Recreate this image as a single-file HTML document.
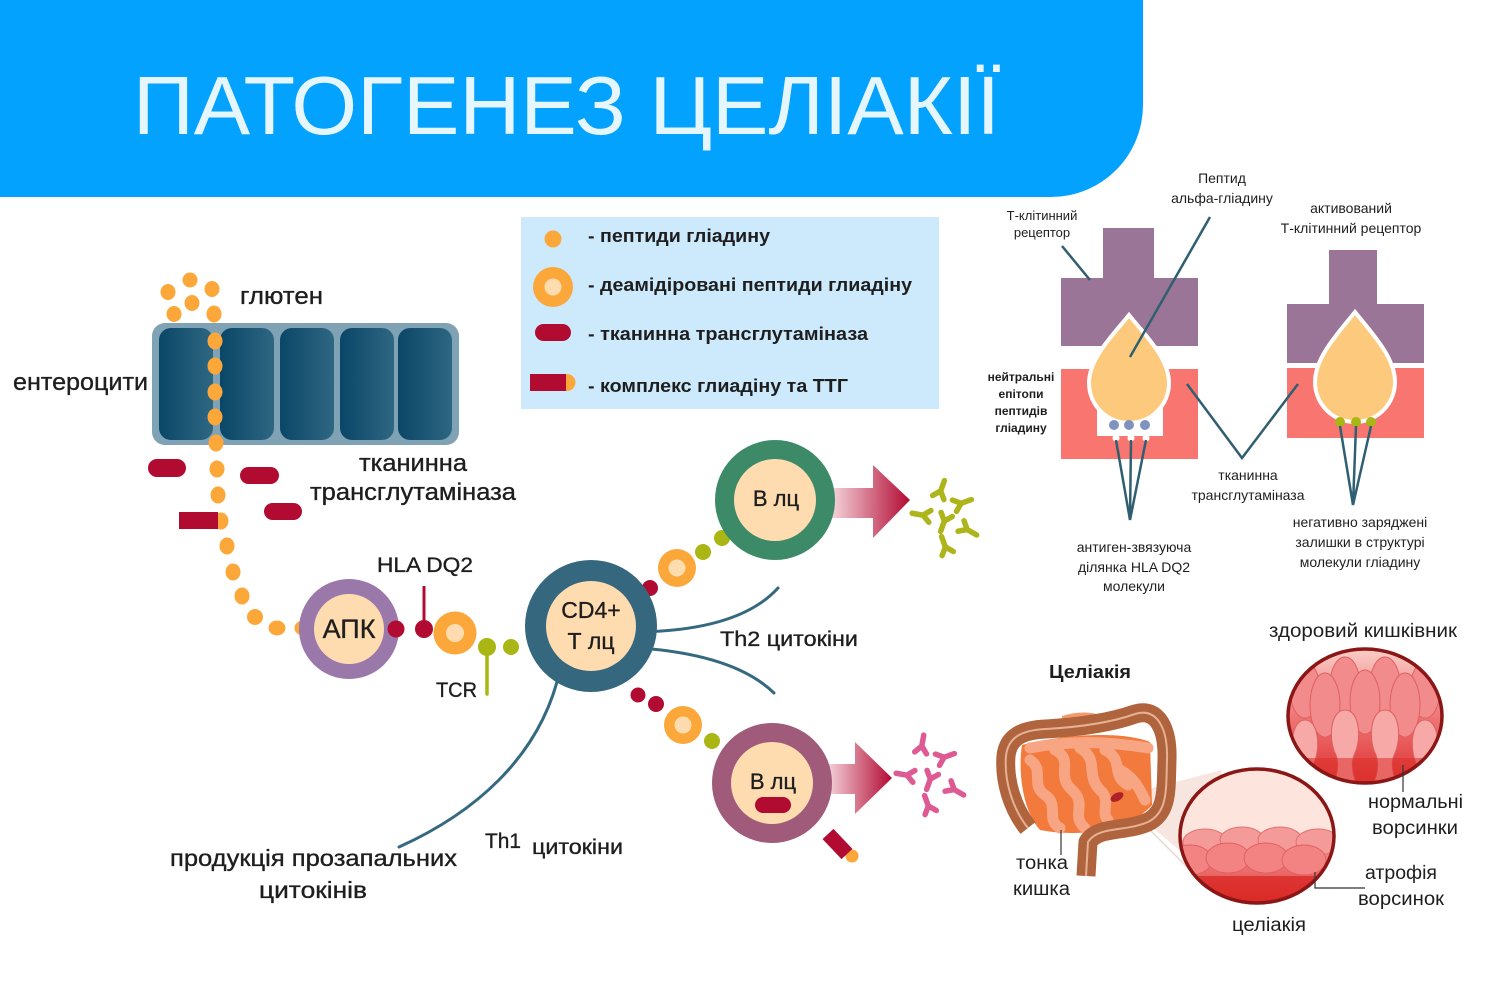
<!DOCTYPE html>
<html><head><meta charset="utf-8">
<style>
html,body{margin:0;padding:0;background:#fff;}
svg{display:block;}
text{font-family:"Liberation Sans","DejaVu Sans",sans-serif;fill:#1e1e1e;}
.b{font-weight:bold;}
.m{stroke:#1e1e1e;stroke-width:0.35px;}
</style></head>
<body>
<svg width="1500" height="996" viewBox="0 0 1500 996" xmlns="http://www.w3.org/2000/svg">
<defs>
  <linearGradient id="cell" x1="0" y1="0" x2="1" y2="0">
    <stop offset="0" stop-color="#0a4667"/><stop offset="1" stop-color="#2e6782"/>
  </linearGradient>
  <linearGradient id="arr" x1="0" y1="0" x2="1" y2="0">
    <stop offset="0" stop-color="#f6d8df"/><stop offset="1" stop-color="#b20a33"/>
  </linearGradient>
  <linearGradient id="vil" x1="0" y1="0" x2="0" y2="1">
    <stop offset="0" stop-color="#fbd9d2"/><stop offset="0.45" stop-color="#f08080"/><stop offset="1" stop-color="#dc2a28"/>
  </linearGradient>
  <linearGradient id="vil2" x1="0" y1="0" x2="0" y2="1">
    <stop offset="0" stop-color="#f59a9a"/><stop offset="1" stop-color="#d9221f"/>
  </linearGradient>
  <clipPath id="c1"><ellipse cx="1365" cy="716" rx="77" ry="67"/></clipPath>
  <clipPath id="c2"><ellipse cx="1257" cy="836" rx="77" ry="67"/></clipPath>
  <g id="ab"><path d="M0,10 L0,-1 M0,-1 L-6,-8 M0,-1 L6,-8" fill="none" stroke-width="5.5" stroke-linecap="round"/></g>
</defs>

<!-- Header -->
<path d="M0,0 H1143 V105 A92,92 0 0 1 1051,197 H0 Z" fill="#03a2fe"/>
<text x="133" y="134" font-size="83" textLength="867" lengthAdjust="spacingAndGlyphs" style="fill:#e6f6ff">ПАТОГЕНЕЗ ЦЕЛІАКІЇ</text>

<!-- Enterocytes -->
<rect x="152" y="323" width="307" height="122" rx="13" fill="#7fa2b5"/>
<rect x="159" y="328" width="54" height="112" rx="12" fill="url(#cell)"/>
<rect x="220" y="328" width="54" height="112" rx="12" fill="url(#cell)"/>
<rect x="280" y="328" width="54" height="112" rx="12" fill="url(#cell)"/>
<rect x="340" y="328" width="54" height="112" rx="12" fill="url(#cell)"/>
<rect x="398" y="328" width="54" height="112" rx="12" fill="url(#cell)"/>

<!-- gluten dots -->
<g fill="#fba73a">
  <ellipse cx="168" cy="292" rx="7.5" ry="8"/>
  <ellipse cx="190" cy="280" rx="7.5" ry="7.5"/>
  <ellipse cx="212" cy="289" rx="7.5" ry="8"/>
  <ellipse cx="192" cy="303" rx="7.5" ry="8"/>
  <ellipse cx="174" cy="314" rx="7.5" ry="8"/>
  <ellipse cx="214" cy="314" rx="7.5" ry="8.5"/>
  <ellipse cx="215" cy="341" rx="7.5" ry="8.5"/>
  <ellipse cx="215" cy="366" rx="7.5" ry="8.5"/>
  <ellipse cx="215" cy="392" rx="7.5" ry="8.5"/>
  <ellipse cx="215" cy="417" rx="7.5" ry="8.5"/>
  <ellipse cx="216" cy="443" rx="7.5" ry="8.5"/>
  <ellipse cx="217" cy="469" rx="7.5" ry="8.5"/>
  <ellipse cx="218" cy="495" rx="7.5" ry="8.5"/>
  <ellipse cx="221" cy="521" rx="7.5" ry="8.5"/>
  <ellipse cx="227" cy="546" rx="7.5" ry="8.5"/>
  <ellipse cx="233" cy="572" rx="7.5" ry="8.5"/>
  <ellipse cx="242" cy="596" rx="7.5" ry="8.5"/>
  <ellipse cx="255" cy="617" rx="8" ry="8"/>
  <ellipse cx="277" cy="628" rx="8.5" ry="7.5"/>
  <ellipse cx="303" cy="628" rx="8.5" ry="7.5"/>
</g>
<!-- TTG pills -->
<g fill="#b10b32">
  <rect x="148" y="459" width="38" height="18" rx="9"/>
  <rect x="240" y="467" width="39" height="17" rx="8.5"/>
  <rect x="264" y="503" width="38" height="17" rx="8.5"/>
  <rect x="179" y="512" width="39" height="17"/>
</g>

<text class="m" x="240" y="304" font-size="24" textLength="83" lengthAdjust="spacingAndGlyphs">глютен</text>
<text class="m" x="13" y="390" font-size="24" textLength="135" lengthAdjust="spacingAndGlyphs">ентероцити</text>
<text class="m" x="359" y="471" font-size="24" textLength="108" lengthAdjust="spacingAndGlyphs">тканинна</text>
<text class="m" x="310" y="500" font-size="24" textLength="206" lengthAdjust="spacingAndGlyphs">трансглутаміназа</text>

<!-- Legend -->
<rect x="521" y="217" width="418" height="192" fill="#cdeafd"/>
<circle cx="553" cy="239" r="8.5" fill="#fba73a"/>
<circle cx="553" cy="287" r="20" fill="#fba73a"/>
<circle cx="553" cy="287" r="8.5" fill="#fedcb0"/>
<rect x="535" y="324" width="36" height="17" rx="8.5" fill="#b10b32"/>
<circle cx="567" cy="382.5" r="8.5" fill="#fba73a"/>
<rect x="530" y="374" width="36" height="17" fill="#b10b32"/>
<text class="b" x="588" y="242" font-size="18" textLength="182" lengthAdjust="spacingAndGlyphs">- пептиди гліадину</text>
<text class="b" x="588" y="291" font-size="18" textLength="324" lengthAdjust="spacingAndGlyphs">- деамідіровані пептиди глиадіну</text>
<text class="b" x="588" y="340" font-size="18" textLength="280" lengthAdjust="spacingAndGlyphs">- тканинна трансглутаміназа</text>
<text class="b" x="588" y="392" font-size="18" textLength="260" lengthAdjust="spacingAndGlyphs">- комплекс глиадіну та ТТГ</text>

<!-- Curves from CD4 -->
<g fill="none" stroke="#35697f" stroke-width="3" stroke-linecap="round">
  <path d="M640,632 Q740,630 778,588"/>
  <path d="M640,648 Q735,655 774,693"/>
  <path d="M560,670 C540,760 470,815 399,847"/>
</g>

<!-- APC -->
<circle cx="349" cy="629" r="50" fill="#9b78aa"/>
<circle cx="349" cy="629" r="35" fill="#fedcb0"/>
<text class="m" x="349" y="638" font-size="27" text-anchor="middle">АПК</text>
<circle cx="396" cy="629" r="8.5" fill="#b10b32"/>
<line x1="424" y1="586" x2="424" y2="628" stroke="#b10b32" stroke-width="3"/>
<circle cx="424" cy="629" r="9" fill="#b10b32"/>
<circle cx="455" cy="633" r="21.5" fill="#fba73a"/>
<circle cx="455" cy="633" r="9" fill="#fedcb0"/>
<line x1="487" y1="648" x2="487" y2="694" stroke="#aab613" stroke-width="3.5" stroke-linecap="round"/>
<circle cx="487" cy="647" r="9" fill="#aab613"/>
<circle cx="511" cy="647" r="8" fill="#aab613"/>
<text class="m" x="377" y="572" font-size="21" textLength="96" lengthAdjust="spacingAndGlyphs">HLA DQ2</text>
<text class="m" x="436" y="697" font-size="21" textLength="41" lengthAdjust="spacingAndGlyphs">TCR</text>

<!-- dots to B cells -->
<circle cx="650" cy="588" r="8" fill="#b10b32"/>
<circle cx="677" cy="568" r="19" fill="#fba73a"/>
<circle cx="677" cy="568" r="8.5" fill="#fedcb0"/>
<circle cx="703" cy="552" r="8" fill="#aab613"/>
<circle cx="722" cy="538" r="8" fill="#aab613"/>
<circle cx="638" cy="695" r="7.5" fill="#b10b32"/>
<circle cx="656" cy="704" r="8" fill="#b10b32"/>
<circle cx="683" cy="725" r="19" fill="#fba73a"/>
<circle cx="683" cy="725" r="8.5" fill="#fedcb0"/>
<circle cx="712" cy="741" r="8" fill="#aab613"/>

<!-- CD4 cell -->
<circle cx="591" cy="626" r="66" fill="#35677f"/>
<circle cx="591" cy="626" r="45" fill="#fedcb0"/>
<text class="m" x="591" y="618" font-size="23" text-anchor="middle">CD4+</text>
<text class="m" x="591" y="649" font-size="23" text-anchor="middle">Т лц</text>

<!-- arrows -->
<path d="M830,488 H873 V465 L910,500 L873,538 V518 H830 Z" fill="url(#arr)"/>
<path d="M826,764 H855 V742 L892,778 L855,814 V794 H826 Z" fill="url(#arr)"/>

<!-- B cells -->
<circle cx="775" cy="500" r="60" fill="#3d8a68"/>
<circle cx="775" cy="500" r="41" fill="#fedcb0"/>
<text class="m" x="776" y="506" font-size="22" text-anchor="middle">В лц</text>
<circle cx="852" cy="856" r="6.5" fill="#fba73a"/>
<line x1="828" y1="834" x2="847" y2="854" stroke="#b10b32" stroke-width="15"/>
<circle cx="772" cy="783" r="60" fill="#a05a7a"/>
<circle cx="772" cy="783" r="41" fill="#fedcb0"/>
<text class="m" x="773" y="789" font-size="22" text-anchor="middle">В лц</text>
<rect x="755" y="797" width="36" height="16" rx="8" fill="#b10b32"/>

<!-- antibodies -->
<g stroke="#adb51a">
  <use href="#ab" transform="translate(941,490) rotate(200)"/>
  <use href="#ab" transform="translate(962,503) rotate(250)"/>
  <use href="#ab" transform="translate(922,515) rotate(100)"/>
  <use href="#ab" transform="translate(944,522) rotate(20)"/>
  <use href="#ab" transform="translate(968,530) rotate(300)"/>
  <use href="#ab" transform="translate(945,546) rotate(160)"/>
</g>
<g stroke="#de5a93">
  <use href="#ab" transform="translate(922,745) rotate(190)"/>
  <use href="#ab" transform="translate(945,757) rotate(250)"/>
  <use href="#ab" transform="translate(906,775) rotate(100)"/>
  <use href="#ab" transform="translate(930,780) rotate(20)"/>
  <use href="#ab" transform="translate(955,790) rotate(300)"/>
  <use href="#ab" transform="translate(928,805) rotate(160)"/>
</g>

<text class="m" x="720" y="646" font-size="21" textLength="138" lengthAdjust="spacingAndGlyphs">Th2 цитокіни</text>
<text class="m" x="485" y="848" font-size="21" textLength="36" lengthAdjust="spacingAndGlyphs">Th1</text>
<text class="m" x="532" y="854" font-size="21" textLength="91" lengthAdjust="spacingAndGlyphs">цитокіни</text>
<text class="m" x="170" y="866" font-size="23" textLength="287" lengthAdjust="spacingAndGlyphs">продукція прозапальних</text>
<text class="m" x="259" y="898" font-size="23" textLength="108" lengthAdjust="spacingAndGlyphs">цитокінів</text>

<!-- Top right diagram -->
<g fill="#9b7597">
  <rect x="1103" y="228" width="51" height="52"/>
  <rect x="1061" y="278" width="137" height="68"/>
  <rect x="1329" y="250" width="48" height="56"/>
  <rect x="1287" y="304" width="137" height="59"/>
</g>
<rect x="1061" y="369" width="137" height="90" fill="#f8766f"/>
<rect x="1097" y="369" width="66" height="67" fill="#ffffff"/>
<rect x="1287" y="368" width="137" height="70" fill="#f8766f"/>
<path d="M1129,315 C1145,335 1169,358 1169,383 A40,40 0 0 1 1089,383 C1089,358 1113,335 1129,315 Z" fill="#fdca7d" stroke="#fff" stroke-width="4"/>
<path d="M1355,312 C1371,332 1395,357 1395,382 A40,40 0 0 1 1315,382 C1315,357 1339,332 1355,312 Z" fill="#fdca7d" stroke="#fff" stroke-width="4"/>
<g fill="#7f92c0">
  <circle cx="1114" cy="425" r="5"/><circle cx="1129" cy="425" r="5"/><circle cx="1145" cy="425" r="5"/>
</g>
<g fill="#fff">
  <circle cx="1116" cy="438" r="3.5"/><circle cx="1131" cy="438" r="3.5"/><circle cx="1146" cy="438" r="3.5"/>
</g>
<g fill="#aab613">
  <circle cx="1340" cy="422" r="5"/><circle cx="1356" cy="422" r="5"/><circle cx="1371" cy="422" r="5"/>
</g>
<g fill="none" stroke="#2f5f70" stroke-width="2.5">
  <path d="M1116,440 L1130,520 L1131,440 M1130,520 L1146,440"/>
  <path d="M1340,426 L1353,505 L1356,426 M1353,505 L1371,426"/>
  <path d="M1062,246 L1090,280"/>
  <path d="M1210,217 L1130,357"/>
  <path d="M1187,384 L1242,458 L1298,384"/>
</g>
<g font-size="13" text-anchor="middle">
  <text x="1042" y="220">Т-клітинний</text>
  <text x="1042" y="237">рецептор</text>
  <text x="1222" y="183" font-size="14">Пептид</text>
  <text x="1222" y="203" font-size="14">альфа-гліадину</text>
  <text x="1351" y="213" font-size="14">активований</text>
  <text x="1351" y="233" font-size="14">Т-клітинний рецептор</text>
  <text class="b" x="1021" y="381" font-size="12">нейтральні</text>
  <text class="b" x="1021" y="398" font-size="12">епітопи</text>
  <text class="b" x="1021" y="415" font-size="12">пептидів</text>
  <text class="b" x="1021" y="432" font-size="12">гліадину</text>
  <text x="1248" y="480" font-size="14">тканинна</text>
  <text x="1248" y="500" font-size="14">трансглутаміназа</text>
  <text x="1134" y="552" font-size="14">антиген-звязуюча</text>
  <text x="1134" y="572" font-size="14">ділянка  HLA DQ2</text>
  <text x="1134" y="591" font-size="14">молекули</text>
  <text x="1360" y="527" font-size="14">негативно заряджені</text>
  <text x="1360" y="547" font-size="14">залишки в структурі</text>
  <text x="1360" y="567" font-size="14">молекули гліадину</text>
</g>

<!-- Bottom right: intestine -->
<path d="M1117,797 L1222,770 L1200,868 Z" fill="#f3dcd3" opacity="0.7"/>
<line x1="1125" y1="805" x2="1192" y2="872" stroke="#e9d6cc" stroke-width="1.5"/>
<!-- small intestine -->
<path d="M1022,745 C1060,735 1120,730 1150,742 L1152,805 C1130,830 1080,838 1040,830 C1022,810 1018,770 1022,745 Z" fill="#f27a3c"/>
<g fill="none" stroke="#f8a583" stroke-width="11" stroke-linecap="round">
  <path d="M1030,760 C1045,770 1030,785 1045,795 C1060,805 1045,820 1060,828"/>
  <path d="M1055,750 C1075,760 1055,775 1072,790 C1088,805 1070,815 1085,828"/>
  <path d="M1080,748 C1100,760 1085,775 1100,790 C1112,800 1100,812 1108,820"/>
  <path d="M1105,750 C1125,760 1110,775 1128,785"/>
  <path d="M1030,748 C1060,742 1100,740 1148,748"/>
  <path d="M1120,770 C1135,778 1140,790 1145,800"/>
</g>
<path d="M1062,716 C1080,710 1100,712 1110,720 C1100,728 1075,730 1062,728 Z" fill="#f59a6e"/>
<!-- colon -->
<path d="M1028,828 C1012,808 1004,780 1006,756 C1008,737 1022,730 1046,729 C1080,727 1110,723 1135,714 C1158,707 1168,730 1167,760 C1166,790 1168,812 1148,822 C1125,832 1098,826 1088,842 L1086,876" fill="none" stroke="#b0643e" stroke-width="19" stroke-linejoin="round"/>
<path d="M1028,828 C1012,808 1004,780 1006,756 C1008,737 1022,730 1046,729 C1080,727 1110,723 1135,714 C1158,707 1168,730 1167,760 C1166,790 1168,812 1148,822 C1125,832 1098,826 1088,842 L1086,876" fill="none" stroke="#e6b092" stroke-width="2"/>
<ellipse cx="1117" cy="797" rx="7" ry="4" fill="#b0202a" transform="rotate(-30 1117 797)"/>
<line x1="1061" y1="830" x2="1061" y2="855" stroke="#333" stroke-width="1.2"/>

<!-- healthy villi circle -->
<g clip-path="url(#c1)">
  <rect x="1280" y="640" width="170" height="150" fill="url(#vil)"/>
  <g fill="#f28b8b" stroke="#e05f5f" stroke-width="1">
    <ellipse cx="1305" cy="690" rx="15" ry="28"/><ellipse cx="1345" cy="685" rx="15" ry="28"/>
    <ellipse cx="1385" cy="685" rx="15" ry="28"/><ellipse cx="1425" cy="690" rx="15" ry="28"/>
    <ellipse cx="1325" cy="705" rx="15" ry="32"/><ellipse cx="1365" cy="702" rx="15" ry="32"/>
    <ellipse cx="1405" cy="705" rx="15" ry="32"/>
  </g>
  <g fill="#f7a9a7" stroke="#e05f5f" stroke-width="1">
    <path d="M1305,720 c-14,0 -16,30 -8,45 c4,10 0,25 -4,30 h24 c-4,-5 -8,-20 -4,-30 c8,-15 6,-45 -8,-45 z"/>
    <path d="M1345,722 c-15,0 -17,30 -9,45 c4,10 0,25 -4,30 h26 c-4,-5 -8,-20 -4,-30 c8,-15 6,-45 -9,-45 z" transform="translate(0,-12)"/>
    <path d="M1385,722 c-15,0 -17,30 -9,45 c4,10 0,25 -4,30 h26 c-4,-5 -8,-20 -4,-30 c8,-15 6,-45 -9,-45 z" transform="translate(0,-12)"/>
    <path d="M1425,720 c-14,0 -16,30 -8,45 c4,10 0,25 -4,30 h24 c-4,-5 -8,-20 -4,-30 c8,-15 6,-45 -8,-45 z"/>
  </g>
  <rect x="1280" y="758" width="170" height="32" fill="#dd302c" opacity="0.55"/>
</g>
<ellipse cx="1365" cy="716" rx="77" ry="67" fill="none" stroke="#8a1616" stroke-width="3.5"/>

<!-- celiac circle -->
<g clip-path="url(#c2)">
  <rect x="1170" y="760" width="180" height="160" fill="#fde4dc"/>
  <rect x="1170" y="840" width="180" height="80" fill="url(#vil2)"/>
  <g fill="#f49a98" stroke="#e27070" stroke-width="1">
    <ellipse cx="1205" cy="842" rx="22" ry="13"/><ellipse cx="1242" cy="840" rx="22" ry="13"/>
    <ellipse cx="1280" cy="840" rx="22" ry="13"/><ellipse cx="1318" cy="842" rx="22" ry="13"/>
  </g>
  <g fill="#f38383" stroke="#e06060" stroke-width="1">
    <ellipse cx="1190" cy="860" rx="22" ry="15"/><ellipse cx="1228" cy="858" rx="22" ry="15"/>
    <ellipse cx="1266" cy="858" rx="22" ry="15"/><ellipse cx="1304" cy="860" rx="22" ry="15"/>
  </g>
  <rect x="1170" y="876" width="180" height="32" fill="#d9221f" opacity="0.7"/>
</g>
<ellipse cx="1257" cy="836" rx="77" ry="67" fill="none" stroke="#8a1616" stroke-width="3.5"/>

<g fill="none" stroke="#333" stroke-width="1.2">
  <path d="M1403,765 V792"/>
  <path d="M1315,872 V888 H1365"/>
</g>

<text x="1269" y="637" font-size="19" textLength="188" lengthAdjust="spacingAndGlyphs">здоровий кишківник</text>
<text class="b" x="1049" y="678" font-size="18" textLength="82" lengthAdjust="spacingAndGlyphs">Целіакія</text>
<text x="1368" y="808" font-size="19" textLength="95" lengthAdjust="spacingAndGlyphs">нормальні</text>
<text x="1372" y="834" font-size="19" textLength="86" lengthAdjust="spacingAndGlyphs">ворсинки</text>
<text x="1365" y="879" font-size="19" textLength="72" lengthAdjust="spacingAndGlyphs">атрофія</text>
<text x="1358" y="905" font-size="19" textLength="86" lengthAdjust="spacingAndGlyphs">ворсинок</text>
<text x="1232" y="931" font-size="19" textLength="74" lengthAdjust="spacingAndGlyphs">целіакія</text>
<text x="1016" y="869" font-size="19" textLength="52" lengthAdjust="spacingAndGlyphs">тонка</text>
<text x="1013" y="895" font-size="19" textLength="57" lengthAdjust="spacingAndGlyphs">кишка</text>
</svg>
</body></html>
